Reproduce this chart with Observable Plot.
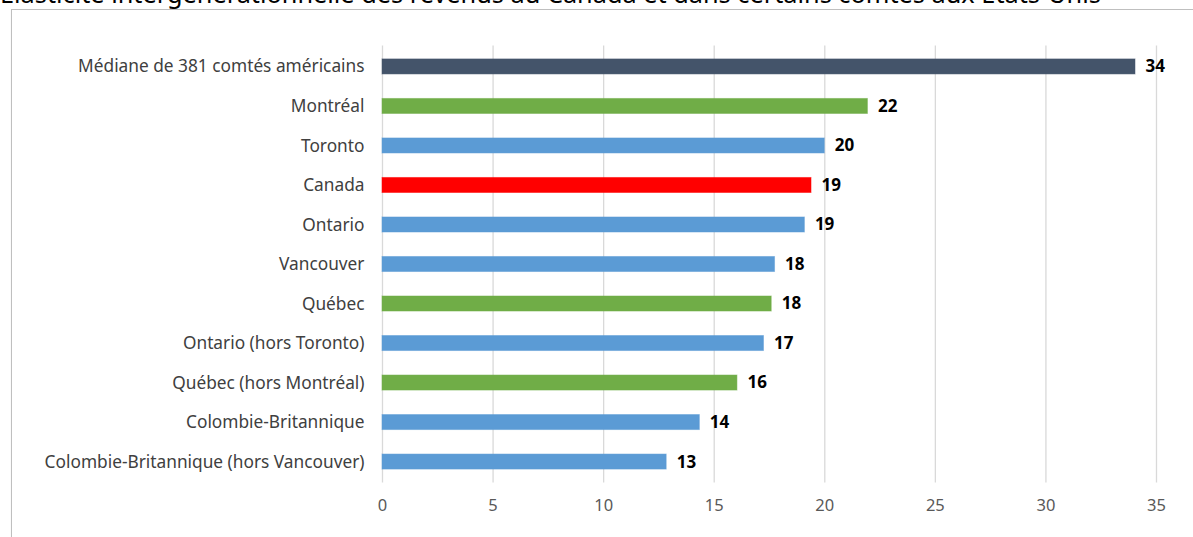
<!DOCTYPE html>
<html>
<head>
<meta charset="utf-8">
<script src="https://cdn.jsdelivr.net/npm/d3@7"></script>
<script src="https://cdn.jsdelivr.net/npm/@observablehq/plot@0.6"></script>
<style>
  html, body { margin: 0; padding: 0; background: #fff; overflow: hidden; }
  #wrap { position: relative; width: 1193px; height: 537px; overflow: hidden; font-family: "Noto Sans", sans-serif; }
  #title { position: absolute; left: 0px; top: -19px; font-size: 25.3px; line-height: 25.5px; color: #000; white-space: nowrap; }
  #frame { position: absolute; left: 11px; top: 9px; width: 1300px; height: 600px; border: 1px solid #bfbfbf; box-shadow: 0 1px 1px #e6e6e6; }
  #chart { position: absolute; left: 0; top: 13px; }
</style>
</head>
<body>
<div id="wrap">
  <div id="title">Élasticité intergénérationnelle des revenus au Canada et dans certains comtés aux États-Unis</div>
  <div id="frame"></div>
  <div id="chart"></div>
</div>
<script>
const categories = [
  "Médiane de 381 comtés américains",
  "Montréal",
  "Toronto",
  "Canada",
  "Ontario",
  "Vancouver",
  "Québec",
  "Ontario (hors Toronto)",
  "Québec (hors Montréal)",
  "Colombie-Britannique",
  "Colombie-Britannique (hors Vancouver)"
];
const values = [34.05, 21.95, 20.0, 19.4, 19.1, 17.75, 17.6, 17.25, 16.05, 14.35, 12.85];
const groups = ["États-Unis", "Québec", "Autre", "Canada", "Autre", "Autre", "Québec", "Autre", "Québec", "Autre", "Autre"];
const groupNames = ["États-Unis", "Québec", "Autre", "Canada"];
const groupColors = ["#44546A", "#70AD47", "#5B9BD5", "#FF0000"];
const xTicks = [0, 5, 10, 15, 20, 25, 30, 35];

const data = categories.map((c, i) => ({cat: c, value: values[i], group: groups[i]}));

const chart = Plot.plot({
  width: 1193,
  height: 524,
  marginLeft: 382,
  marginRight: 37,
  marginTop: 32.5,
  marginBottom: 54.5,
  style: {fontFamily: "Noto Sans, sans-serif", background: "transparent"},
  x: {domain: [0, 35], label: null},
  y: {domain: categories, paddingInner: 0.62, paddingOuter: 0.34, round: false, label: null},
  color: {domain: groupNames, range: groupColors},
  marks: [
    Plot.gridX(xTicks, {stroke: "#d9d9d9", strokeOpacity: 1, strokeWidth: 1.3}),
    Plot.barX(data, {x: "value", y: "cat", fill: "group", stroke: "group", strokeOpacity: 0.5, strokeWidth: 1}),
    Plot.text(data, {x: "value", y: "cat", text: d => String(Math.round(d.value)), dx: 10, textAnchor: "start", fontWeight: "bold", fontSize: 17, fill: "#000"}),
    Plot.axisX(xTicks, {tickSize: 0, tickPadding: 16.5, label: null, fontSize: 16.5, color: "#595959", tickFormat: d => String(d)}),
    Plot.axisY({tickSize: 0, tickPadding: 18, label: null, fontSize: 17.3, color: "#404040"})
  ]
});
document.getElementById("chart").appendChild(chart);
</script>
</body>
</html>
